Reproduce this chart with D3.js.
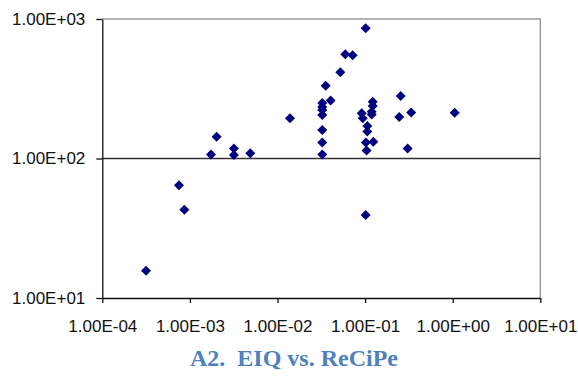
<!DOCTYPE html>
<html>
<head>
<meta charset="utf-8">
<script src="https://cdn.jsdelivr.net/npm/d3@7"></script>
<style>
  body { margin: 0; background: #fff; }
  #canvas { width: 578px; height: 376px; }
</style>
</head>
<body>
<div id="canvas"></div>
<script>
// data (ReCiPe on x, EIQ on y)
var recipe = [3.16e-4, 7.5e-4, 8.63e-4, 1.74e-3, 2.02e-3, 3.18e-3, 3.18e-3, 4.89e-3, 0.0139,
  0.0324, 0.0324, 0.0324, 0.0324, 0.0324, 0.0324, 0.0324, 0.0404, 0.0355, 0.0521, 0.0594, 0.0721, 0.1016,
  0.0914, 0.094, 0.106, 0.106, 0.102, 0.124, 0.104, 0.122, 0.122, 0.119, 0.119, 0.1016,
  0.255, 0.2455, 0.336, 0.306, 1.054];
var eiq = [15.7, 64.2, 43, 107, 143, 118, 106, 109, 194,
  250, 234, 223, 205, 160, 130, 107, 260, 332, 415, 558, 549, 858,
  211, 194, 171, 156, 130, 132, 114, 255, 238, 216, 207, 39.4,
  281, 198, 214, 118, 213];
var xTicks = [1e-4, 1e-3, 1e-2, 1e-1, 1e0, 1e1];
var yTicks = [1e1, 1e2, 1e3];
var caption = "A2.  EIQ vs. ReCiPe";

var data = recipe.map(function(d, i) { return {x: d, y: eiq[i]}; });

// plot area edges
var width = 578, height = 376;
var plotLeft = 102.3, plotRight = 540.3, plotTop = 19, plotBottom = 298;

var svg = d3.select("#canvas")
  .append("svg")
  .attr("width", width)
  .attr("height", height)
  .style("font-family", "Arial, 'Liberation Sans', sans-serif");

var x = d3.scaleLog().domain([1e-4, 1e1]).range([plotLeft, plotRight]);
var y = d3.scaleLog().domain([1e1, 1e3]).range([plotBottom, plotTop]);

// plot border (top, right) in gray
svg.append("path")
  .attr("d", "M" + plotLeft + "," + plotTop + "H" + plotRight + "V" + plotBottom)
  .attr("fill", "none")
  .attr("stroke", "#9a9a9a")
  .attr("stroke-width", 1.5);

// gridline at 1e2
svg.append("line")
  .attr("x1", plotLeft).attr("x2", plotRight)
  .attr("y1", y(100)).attr("y2", y(100))
  .attr("stroke", "#333")
  .attr("stroke-width", 1.5);

// tick format like Excel scientific
var fmt = function(d) {
  var e = Math.round(Math.log10(d));
  return "1.00E" + (e < 0 ? "-" : "+") + String(Math.abs(e)).padStart(2, "0");
};

// x axis
var xAxis = svg.append("g")
  .attr("transform", "translate(0," + plotBottom + ")")
  .call(d3.axisBottom(x).tickValues(xTicks).tickFormat(fmt).tickSizeInner(5).tickSizeOuter(0).tickPadding(17));
xAxis.selectAll("text").style("font-size", "17px").attr("fill", "#111");

// y axis
var yAxis = svg.append("g")
  .attr("transform", "translate(" + plotLeft + ",0)")
  .call(d3.axisLeft(y).tickValues(yTicks).tickFormat(fmt).tickSizeInner(6).tickSizeOuter(0).tickPadding(11));
yAxis.selectAll("text").style("font-size", "17px").attr("fill", "#111");
svg.selectAll(".domain, .tick line").attr("stroke", "#111").attr("stroke-width", 1.3);

// dots
var diamond = d3.symbol().type(d3.symbolSquare).size(50);
svg.append("g")
  .selectAll("path")
  .data(data)
  .enter()
  .append("path")
    .attr("d", diamond)
    .attr("transform", function(d) { return "translate(" + x(d.x) + "," + y(d.y) + ") rotate(45)"; })
    .attr("fill", "#00007f");

// caption
svg.append("text")
  .attr("x", 294)
  .attr("y", 366)
  .attr("text-anchor", "middle")
  .style("white-space", "pre")
  .style("font-family", "'Times New Roman', 'Liberation Serif', serif")
  .style("font-weight", "bold")
  .style("font-size", "24px")
  .attr("fill", "#4f81bd")
  .text(caption);
</script>
</body>
</html>
